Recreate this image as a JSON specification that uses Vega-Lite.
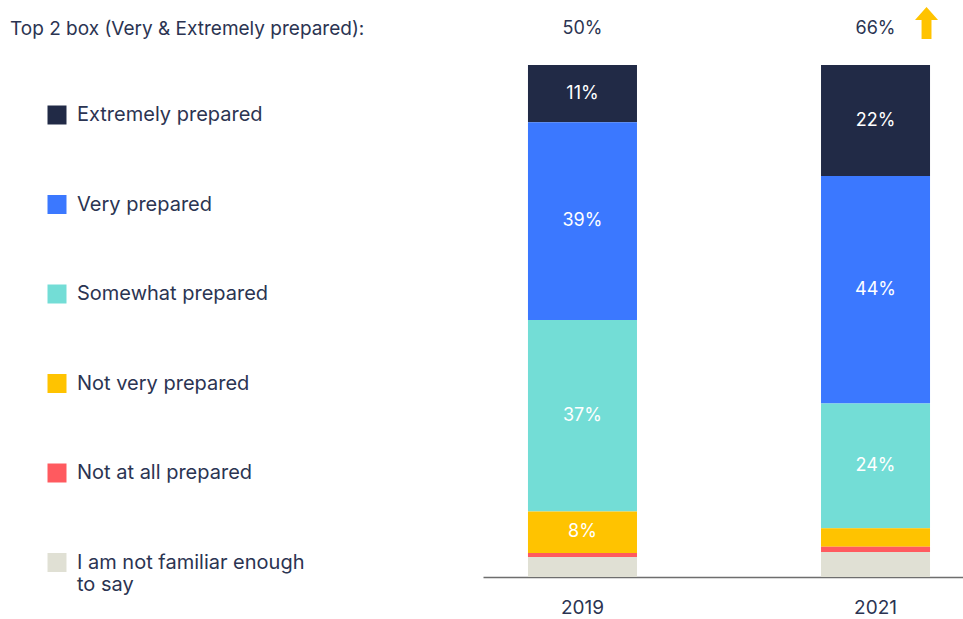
{
  "$schema": "https://vega.github.io/schema/vega-lite/v6.json",
  "width": 480,
  "height": 512,
  "autosize": {"type": "none"},
  "padding": {"left": 483, "top": 65, "right": 0, "bottom": 42},
  "background": "white",
  "title": {
    "text": "Top 2 box (Very & Extremely prepared):",
    "anchor": "start",
    "frame": "group",
    "dx": -473,
    "dy": 52,
    "fontSize": 19,
    "font": "Inter",
    "fontWeight": "normal",
    "color": "#2B3452",
    "offset": 20
  },
  "config": {"view": {"stroke": null}, "font": "Inter"},
  "datasets": {
    "responses": [
      {"year": "2019", "response": "Extremely prepared", "rank": 6, "value": 0.112},
      {"year": "2019", "response": "Very prepared", "rank": 5, "value": 0.386},
      {"year": "2019", "response": "Somewhat prepared", "rank": 4, "value": 0.374},
      {"year": "2019", "response": "Not very prepared", "rank": 3, "value": 0.081},
      {"year": "2019", "response": "Not at all prepared", "rank": 2, "value": 0.008},
      {"year": "2019", "response": "I am not familiar enough to say", "rank": 1, "value": 0.039},
      {"year": "2021", "response": "Extremely prepared", "rank": 6, "value": 0.217},
      {"year": "2021", "response": "Very prepared", "rank": 5, "value": 0.444},
      {"year": "2021", "response": "Somewhat prepared", "rank": 4, "value": 0.244},
      {"year": "2021", "response": "Not very prepared", "rank": 3, "value": 0.036},
      {"year": "2021", "response": "Not at all prepared", "rank": 2, "value": 0.010},
      {"year": "2021", "response": "I am not familiar enough to say", "rank": 1, "value": 0.049}
    ],
    "top2": [
      {"year": "2019", "top2": 0.50},
      {"year": "2021", "top2": 0.66}
    ],
    "change": [
      {"year": "2021", "direction": "up"}
    ]
  },
  "layer": [
    {
      "data": {"name": "responses"},
      "mark": {"type": "bar"},
      "encoding": {
        "x": {
          "field": "year",
          "type": "nominal",
          "scale": {"paddingInner": 0.628, "paddingOuter": 0.133, "align": 0.577},
          "axis": {
            "title": null,
            "labelAngle": 0,
            "ticks": false,
            "domainColor": "#6E6E6E",
            "domainWidth": 1.5,
            "labelFontSize": 19,
            "labelFont": "Inter",
            "labelColor": "#2B3452",
            "labelPadding": 21
          }
        },
        "y": {
          "field": "value",
          "type": "quantitative",
          "stack": "zero",
          "scale": {"domain": [0, 1], "nice": false, "zero": true},
          "axis": null
        },
        "order": {"field": "rank", "type": "quantitative", "sort": "ascending"},
        "color": {
          "field": "response",
          "type": "nominal",
          "scale": {
            "domain": ["Extremely prepared", "Very prepared", "Somewhat prepared", "Not very prepared", "Not at all prepared", "I am not familiar enough to say"],
            "range": ["#212A46", "#3B78FF", "#73DDD6", "#FFC300", "#FF5A5F", "#E0E0D4"]
          },
          "legend": {
            "orient": "none",
            "legendX": -436,
            "legendY": 40,
            "title": null,
            "padding": 0,
            "symbolType": "square",
            "symbolSize": 361,
            "symbolStrokeWidth": 0,
            "symbolOpacity": 1,
            "labelFontSize": 20,
            "labelFont": "Inter",
            "labelColor": "#2B3452",
            "labelOffset": 10,
            "labelLimit": 400,
            "rowPadding": 69.5,
            "labelExpr": "datum.label == 'I am not familiar enough to say' ? ['I am not familiar enough', 'to say'] : datum.label"
          }
        }
      }
    },
    {
      "data": {"name": "responses"},
      "mark": {"type": "text", "color": "white", "fontSize": 18, "font": "Inter", "baseline": "middle", "align": "center"},
      "encoding": {
        "x": {"field": "year", "type": "nominal"},
        "y": {"field": "value", "type": "quantitative", "stack": "zero", "bandPosition": 0.5},
        "order": {"field": "rank", "type": "quantitative", "sort": "ascending"},
        "detail": {"field": "response"},
        "text": {
          "condition": {"test": "datum.value < 0.05", "value": ""},
          "field": "value",
          "type": "quantitative",
          "format": ".0%"
        }
      }
    },
    {
      "data": {"name": "top2"},
      "mark": {"type": "text", "color": "#2B3452", "fontSize": 18, "font": "Inter", "baseline": "middle", "align": "center"},
      "encoding": {
        "x": {"field": "year", "type": "nominal"},
        "y": {"datum": 1.07, "type": "quantitative"},
        "text": {"field": "top2", "type": "quantitative", "format": ".0%"}
      }
    },
    {
      "data": {"name": "change"},
      "mark": {
        "type": "point",
        "shape": "M0,-1L0.72,-0.19L0.31,-0.19L0.31,1L-0.31,1L-0.31,-0.19L-0.72,-0.19Z",
        "size": 1024,
        "filled": true,
        "color": "#FFC300",
        "opacity": 1,
        "strokeWidth": 0,
        "xOffset": 51
      },
      "encoding": {
        "x": {"field": "year", "type": "nominal"},
        "y": {"datum": 1.082, "type": "quantitative"}
      }
    }
  ]
}
